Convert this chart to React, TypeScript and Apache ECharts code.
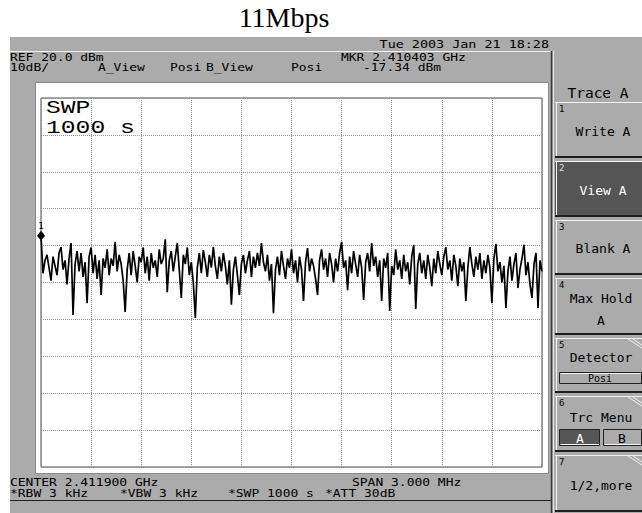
import React, { useEffect, useRef } from "react";
import * as echarts from "echarts";

const chartTitle = "11Mbps";
const dateText = "Tue 2003 Jan 21 18:28";
const refText = "REF 20.0 dBm";
const scaleText = "10dB/";
const traceInfo = [
  { t: "A_View", x: 98 },
  { t: "Posi", x: 170 },
  { t: "B_View", x: 206 },
  { t: "Posi", x: 291 },
];
const markerFreqText = "MKR 2.410403 GHz";
const markerLevelText = "-17.34 dBm";
const bottomLine1 = [
  { t: "CENTER 2.411900 GHz", x: 10 },
  { t: "SPAN 3.000 MHz", x: 352 },
];
const bottomLine2 = [
  { t: "*RBW 3 kHz", x: 10 },
  { t: "*VBW 3 kHz", x: 120 },
  { t: "*SWP 1000 s", x: 228 },
  { t: "*ATT 30dB", x: 325 },
];
const menuTitle = "Trace A";
const menuItems = ["Write A", "View A", "Blank A", "Max Hold", "Detector", "Trc Menu", "1/2,more"];
const sweepLabel = ["SWP", "1000 s"];

const refLevel = 20;
const bottomLevel = -80;
const dbPerDiv = 10;
const sweepPoints = 1000;
const markerLabel = "1";
const markerValue = -17.34;

const traceValues = [
  -17.3, -27.5, -24.0, -22.5, -26.0, -29.5, -23.0, -25.5, -28.0, -22.0,
  -20.4, -26.5, -24.0, -30.5, -23.5, -19.3, -38.8, -25.0, -21.5, -27.0,
  -22.0, -28.5, -24.5, -35.6, -23.0, -20.5, -27.5, -22.5, -29.0, -24.0,
  -33.4, -23.5, -26.0, -21.0, -28.0, -23.5, -25.5, -19.0, -27.0, -22.5,
  -25.0, -29.5, -38.0, -26.5, -22.0, -28.0, -21.5, -25.5, -30.0, -23.0,
  -24.5, -20.5, -27.5, -23.0, -29.5, -22.0, -26.0, -24.0, -28.5, -21.0,
  -25.0, -23.5, -18.3, -32.6, -24.0, -21.5, -27.0, -23.0, -19.3, -26.5,
  -34.2, -22.5, -25.0, -20.5, -28.0, -24.5, -30.0, -39.6, -26.0, -22.0,
  -27.5, -21.2, -24.5, -28.5, -22.5, -26.0, -20.4, -25.5, -29.0, -23.0,
  -27.0, -22.0, -25.5, -30.5, -24.0, -36.0, -26.5, -23.0, -28.0, -33.4,
  -25.0, -22.5, -27.5, -24.0, -21.5, -28.5, -23.0, -26.0, -22.0, -25.5,
  -19.3, -24.5, -27.0, -22.5, -29.5, -25.0, -38.3, -26.5, -23.0, -28.0,
  -21.5, -25.5, -29.0, -23.5, -26.0, -21.0, -27.5, -24.0, -30.0, -23.0,
  -26.5, -35.0, -24.5, -20.7, -27.0, -23.5, -25.5, -29.0, -33.4, -24.0,
  -21.0, -26.5, -23.5, -28.5, -22.0, -25.0, -30.0, -23.5, -27.0, -22.0,
  -19.0, -26.0, -24.0, -32.1, -23.0, -27.5, -21.5, -25.0, -28.5, -22.5,
  -26.0, -34.7, -24.5, -22.0, -27.0, -19.3, -25.5, -23.0, -28.5, -24.0,
  -35.0, -23.5, -26.0, -22.0, -37.7, -25.5, -28.0, -21.0, -26.5, -24.0,
  -29.0, -22.5, -27.0, -24.5, -30.5, -23.0, -19.8, -37.2, -25.0, -22.0,
  -27.5, -24.0, -29.0, -22.5, -26.0, -31.0, -23.5, -27.5, -21.5, -25.0,
  -28.0, -23.0, -20.4, -26.5, -24.0, -29.5, -22.5, -25.5, -31.0, -23.5,
  -27.0, -24.5, -35.0, -26.0, -20.4, -25.0, -28.5, -23.0, -26.5, -22.0,
  -29.0, -24.0, -27.5, -22.5, -26.0, -35.6, -23.5, -19.5, -27.0, -24.5,
  -30.0, -25.5, -36.9, -27.0, -23.0, -29.5, -25.0, -22.0, -31.5, -26.5,
  -23.5, -19.8, -28.0, -24.5, -30.5, -34.2, -25.0, -22.0, -36.9, -24.0,
  -27.0,
];

const MONO = "'DejaVu Sans Mono', monospace";
const GRAY = "#ababab";
const DARK = "#555555";

function txt(text: string, x: number, y: number, o: any = {}) {
  return {
    type: "text",
    z: 100,
    silent: true,
    x,
    y,
    scaleX: o.sx || 1,
    style: {
      text,
      x: 0,
      y: 0,
      font: `${o.weight || "normal"} ${o.size || 13}px ${o.family || MONO}`,
      fill: o.fill || "#000",
      textAlign: o.align || "left",
      textVerticalAlign: "middle",
    },
  };
}
function rect(x: number, y: number, w: number, h: number, fill: string, stroke?: string, z = -5) {
  return {
    type: "rect",
    z,
    silent: true,
    shape: { x, y, width: w, height: h },
    style: { fill, stroke: stroke || null, lineWidth: stroke ? 1 : 0 },
  };
}
function line(x1: number, y1: number, x2: number, y2: number, stroke: string, w = 1, z = 50) {
  return {
    type: "line",
    z,
    silent: true,
    shape: { x1, y1, x2, y2 },
    style: { stroke, lineWidth: w },
  };
}

export default function App() {
  const ref = useRef<HTMLDivElement>(null);
  useEffect(() => {
    if (!ref.current) return;
    const chart = echarts.init(ref.current, undefined, { renderer: "svg" });
    const step = sweepPoints / (traceValues.length - 1);
    const data = traceValues.map((v, i) => [i * step, v]);
    const hdr = { size: 11, sx: 1.18 };

    const g: any[] = [];
    // screen background
    g.push(rect(10, 37, 632, 476, GRAY, undefined, -20));
    g.push(line(10, 51.5, 551, 51.5, "#f0f0f0", 1, -10));
    g.push(line(551.5, 51, 551.5, 513, "#3a3a3a", 1.5, -10));
    g.push(line(553.5, 51, 553.5, 513, "#e6e6e6", 1, -10));
    // plot white area
    g.push(rect(35.5, 82.5, 513, 391, "#ffffff", "#8a8a8a", -10));
    // header texts
    g.push(txt(chartTitle, 284, 17, { size: 28, family: "'Liberation Serif', serif", align: "center" }));
    g.push(txt(dateText, 549, 44.5, { ...hdr, sx: 1.22, align: "right" }));
    g.push(txt(refText, 10, 57, hdr));
    g.push(txt(scaleText, 10, 67.5, hdr));
    traceInfo.forEach((d) => g.push(txt(d.t, d.x, 67.5, hdr)));
    g.push(txt(markerFreqText, 341, 57, hdr));
    g.push(txt(markerLevelText, 363, 67.5, hdr));
    bottomLine1.forEach((d) => g.push(txt(d.t, d.x, 482, hdr)));
    bottomLine2.forEach((d) => g.push(txt(d.t, d.x, 493.5, hdr)));
    g.push(line(10, 500.5, 551, 500.5, "#222", 1.2, -10));
    // sweep label in plot
    const swp = { size: 19, sx: 1.3, family: "'Liberation Mono', monospace" };
    g.push(txt(sweepLabel[0], 46, 108.5, swp));
    g.push(txt(sweepLabel[1], 46, 128.5, swp));

    // right menu
    g.push(txt(menuTitle, 598, 93, { size: 14.5, align: "center" }));
    const btns = [
      [102, 158],
      [161, 217],
      [220, 275],
      [278, 335],
      [338, 393],
      [396, 452],
      [455, 512],
    ];
    btns.forEach(([y0, y1], i) => {
      const dark = i === 1;
      g.push(rect(555, y0, 87, y1 - y0, dark ? DARK : GRAY, undefined, -8));
      g.push(line(555, y0 + 0.5, 642, y0 + 0.5, "#f2f2f2", 1, -6));
      g.push(line(556.5, y0, 556.5, y1, "#f2f2f2", 1, -6));
      g.push(line(555, y1 - 1, 642, y1 - 1, "#1e1e1e", 2, -6));
      g.push(txt(String(i + 1), 559, y0 + 7, { size: 9, fill: dark ? "#ddd" : "#000" }));
      if (i >= 4) {
        g.push(line(628, y0 + 1, 642, y0 + 10, "#f2f2f2", 1, -5));
        g.push(line(633, y0 + 1, 642, y0 + 7, "#f2f2f2", 1, -5));
      }
    });
    g.push(txt(menuItems[0], 603, 131, { align: "center" }));
    g.push(txt(menuItems[1], 603, 190, { align: "center", fill: "#fff" }));
    g.push(txt(menuItems[2], 603, 248, { align: "center" }));
    g.push(txt(menuItems[3], 601, 298, { align: "center" }));
    g.push(txt("A", 601, 320, { align: "center" }));
    g.push(txt(menuItems[4], 601, 357, { align: "center" }));
    g.push(rect(559.5, 372.5, 82, 11, GRAY, "#222", -4));
    g.push(line(560.5, 373.5, 641, 373.5, "#f2f2f2", 1, -3));
    g.push(txt("Posi", 600, 378.5, { size: 10, align: "center" }));
    g.push(txt(menuItems[5], 601, 417, { align: "center" }));
    g.push(rect(559.5, 429.5, 40, 16, DARK, "#222", -4));
    g.push(line(560.5, 444.5, 599, 444.5, "#f2f2f2", 1, -3));
    g.push(txt("A", 580, 438, { align: "center", fill: "#fff" }));
    g.push(rect(603.5, 429.5, 38, 16, GRAY, "#222", -4));
    g.push(line(604.5, 444.5, 641, 444.5, "#f2f2f2", 1, -3));
    g.push(txt("B", 622, 438, { align: "center" }));
    g.push(txt(menuItems[6], 601, 485, { align: "center" }));

    chart.setOption({
      animation: false,
      backgroundColor: "#ffffff",
      grid: {
        left: 41,
        top: 98,
        width: 501,
        height: 369,
        show: true,
        borderColor: "#4a4a4a",
        borderWidth: 1,
        backgroundColor: "transparent",
      },
      xAxis: {
        type: "value",
        min: 0,
        max: sweepPoints,
        interval: sweepPoints / 10,
        axisLine: { show: false },
        axisTick: { show: false },
        axisLabel: { show: false },
        splitLine: { show: true, lineStyle: { color: "#8f8f8f", type: "dotted", width: 1 } },
      },
      yAxis: {
        type: "value",
        min: bottomLevel,
        max: refLevel,
        interval: dbPerDiv,
        axisLine: { show: false },
        axisTick: { show: false },
        axisLabel: { show: false },
        splitLine: { show: true, lineStyle: { color: "#8f8f8f", type: "dotted", width: 1 } },
      },
      graphic: { elements: g },
      series: [
        {
          type: "line",
          data,
          symbol: "none",
          lineStyle: { color: "#000", width: 1.7 },
          clip: true,
          markPoint: {
            symbol: "diamond",
            symbolSize: [8, 10],
            itemStyle: { color: "#000" },
            label: {
              show: true,
              position: "top",
              distance: 0,
              formatter: markerLabel,
              fontSize: 9,
              color: "#000",
              fontFamily: MONO,
            },
            data: [{ coord: [0, markerValue] }],
          },
        },
      ],
    });
    return () => chart.dispose();
  }, []);
  return (
    <div
      ref={ref}
      style={{ position: "absolute", left: 0, top: 0, width: 642, height: 513 }}
    />
  );
}
